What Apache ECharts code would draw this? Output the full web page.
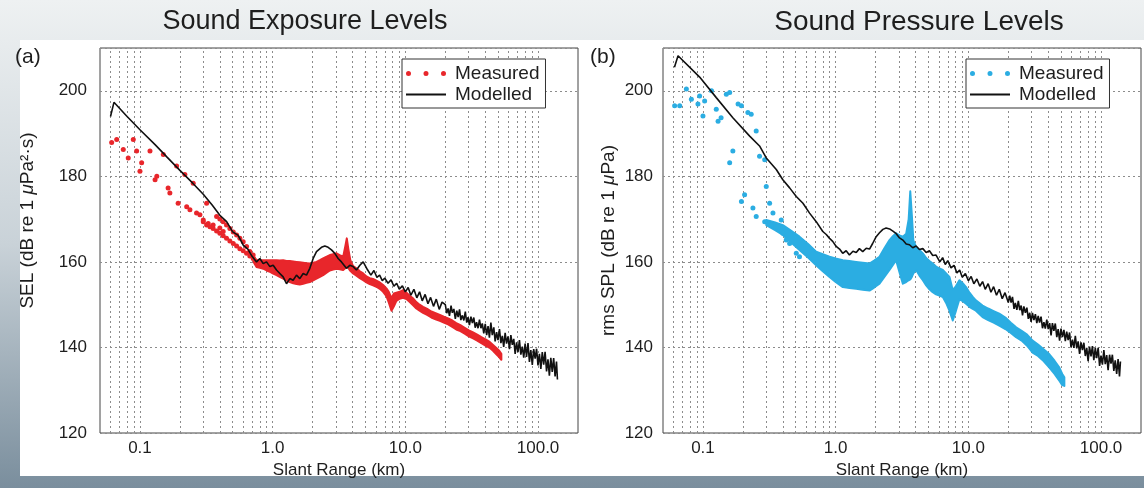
<!DOCTYPE html>
<html><head><meta charset="utf-8">
<script src="https://cdn.jsdelivr.net/npm/echarts@6/dist/echarts.min.js"></script>
<style>html,body{margin:0;padding:0;background:#fff;}#c{width:1144px;height:488px;}</style>
</head><body><div id="c"></div>
<script>
// ---------- data ----------
const xTickLabels = ['0.1', '1.0', '10.0', '100.0'];
const yTicks = [120, 140, 160, 180, 200];
const minorGridKm = [0.06,0.07,0.08,0.09,0.1,0.2,0.3,0.4,0.5,0.6,0.7,0.8,0.9,1,2,3,4,5,6,7,8,9,10,20,30,40,50,60,70,80,90,100];

const selModelled = [
 [0.060,194.0],[0.0637,197.3],[0.08,194.0],[0.1,190.9],[0.13,187.4],[0.16,184.5],[0.2,181.4],[0.25,178.4],[0.3,175.8],[0.35,173.3],[0.4,170.9],[0.45,169.4],[0.5,167.0],[0.55,166.2],[0.6,163.9],[0.65,163.0],[0.7,161.3],
 [0.756,160.0],[0.801,160.8],[0.849,159.6],[0.899,160.0],[0.953,158.9],[1.009,159.2],[1.069,158.1],[1.133,157.3],[1.2,156.5],[1.272,154.9],[1.347,156.1],[1.427,155.7],[1.512,156.9],[1.602,156.1],[1.698,157.3],[1.799,156.9],[1.906,158.5],[2.02,160.8],[2.14,162.4],[2.333,163.4],[2.473,163.7],[2.62,163.4],[2.776,162.8],[2.94,162.0],[3.115,160.8],[3.3,160.0],[3.6,158.5],[3.81,159.2],[4.04,158.9],[4.28,158.1],[4.54,159.2],[4.81,160.0],
 [5.2,158.1],[5.5,156.9],[5.8,158.0],[6.1,156.4],[6.4,156.9],[6.7,155.6],[7.0,156.2],[7.4,155.0],[7.8,155.8],[8.2,154.3],[8.6,155.0],[9.0,153.6],[9.5,154.4],[10.0,153.0],[10.5,154.0],[11.0,152.2],[11.6,153.6],[12.2,151.6],[12.8,153.0],[13.4,150.9],[14.1,152.4],[14.8,150.2],[15.5,151.7],[16.3,149.6],[17.1,151.3],[18.0,148.9],[18.9,150.6],
 [20.0,150.0],[20.5,148.0],[21.0,149.1],[21.5,147.4],[22.1,149.8],[22.6,148.1],[23.2,149.0],[23.8,146.7],[24.4,148.6],[25.0,147.1],[25.6,148.9],[26.2,146.4],[26.9,147.5],[27.6,146.3],[28.3,148.4],[29.0,145.8],[29.7,147.1],[30.4,145.2],[31.2,147.2],[32.0,145.7],[32.8,147.0],[33.6,144.6],[34.4,145.9],[35.3,144.5],[36.2,146.5],[37.1,144.5],[38.0,145.6],[39.0,143.3],[40.0,145.5],[41.0,142.9],[42.0,145.0],[43.0,142.3],[44.1,145.8],[45.2,142.9],[46.4,144.7],[47.5,141.4],[48.7,143.6],[49.9,141.7],[51.2,144.3],[52.5,141.0],[53.8,142.7],[55.1,140.1],[56.5,143.4],[57.9,140.9],[59.4,142.6],[60.9,139.6],[62.4,142.9],[64.0,140.6],[65.6,142.0],[67.2,138.5],[68.9,141.2],[70.6,138.9],[72.4,141.7],[74.2,138.3],[76.1,140.2],[78.0,137.6],[79.9,140.9],[81.9,137.8],[84.0,141.0],[86.1,136.6],[88.2,139.4],[90.5,135.9],[92.7,139.6],[95.1,137.4],[97.5,139.7],[99.9,135.8],[102.4,138.5],[105.0,135.0],[107.6,138.9],[110.3,136.0],[113.0,139.0],[115.9,134.4],[118.8,137.2],[121.7,133.4],[124.8,137.6],[127.9,134.3],[131.1,137.5],[134.4,133.2],[137.7,136.7],[140.0,132.5]
];

const selMeasuredDots = [
 [0.0612,187.9],[0.0668,188.6],[0.0749,186.3],[0.0816,184.3],[0.0891,188.6],[0.0944,185.9],[0.1,181.2],[0.103,183.2],[0.119,185.9],[0.130,179.2],[0.134,180.0],[0.150,185.1],[0.163,177.3],[0.168,176.1],[0.189,182.4],[0.194,173.7],[0.218,180.4],[0.225,172.9],[0.238,172.2],[0.252,178.4],[0.267,171.4],[0.283,171.0],[0.300,169.8],[0.318,173.7],[0.327,169.0],[0.356,168.6],[0.378,170.6],[0.400,167.9],[0.424,167.1],
 [0.30,169.4],[0.318,168.6],[0.337,168.2],[0.356,167.8],[0.378,167.2],[0.400,166.7],[0.424,166.1],[0.449,165.5],[0.476,164.9],[0.505,164.3],[0.535,163.7],[0.566,163.1],[0.60,162.6],[0.636,162.0],[0.673,161.4],[0.713,160.8],
 [0.40,170.0],[0.424,169.4],[0.449,168.6],[0.476,167.8],[0.505,167.0],[0.535,166.3],[0.566,165.5],[0.60,164.7],[0.636,163.6],[0.673,162.4],[0.713,161.6]
];

// [range km, lower dB, upper dB] of the dense measured band
const selMeasuredBand = [
 [0.72,159.9,161.3],[0.756,158.8,160.4],[0.80,158.6,160.4],[0.849,158.4,160.4],[0.90,158.0,160.4],[0.953,157.7,160.4],[1.0,157.3,160.4],[1.069,156.9,160.4],[1.13,156.5,160.3],[1.2,156.1,160.4],[1.27,155.7,160.2],[1.347,155.3,160.2],[1.43,155.0,160.1],[1.512,154.8,160.0],[1.6,154.7,159.9],[1.698,154.9,159.8],[1.8,155.1,159.7],[1.906,155.3,159.6],[2.02,155.7,159.8],[2.14,156.1,160.0],[2.27,156.5,160.4],[2.40,156.9,160.8],[2.55,157.5,161.2],[2.70,158.0,161.6],[2.86,158.2,161.8],[3.03,158.4,162.0],[3.2,158.3,161.6],[3.40,158.1,161.2],[3.52,158.5,163.5],[3.62,159.0,165.5],[3.72,158.6,163.0],[3.85,157.9,160.4],[4.04,157.3,159.0],[4.28,156.8,158.5],[4.54,156.2,157.8],[4.81,155.7,157.3],[5.09,155.2,156.6],[5.39,154.8,156.2],[5.71,154.5,156.0],[6.05,154.2,155.6],[6.42,153.7,155.2],[6.8,153.0,154.6],[7.20,152.0,153.8],[7.5,150.5,153.0],[7.86,148.6,151.5],[8.2,149.6,152.6],[8.56,150.9,152.8],[9.07,151.4,153.0],[9.61,151.6,153.4],[10.2,151.3,152.8],[10.8,150.6,152.1],[11.4,149.9,151.5],[12.1,149.1,150.6],[12.8,148.6,150.0],[13.6,148.1,149.5],[14.6,147.6,149.0],[15.7,147.0,148.4],[16.9,146.6,148.0],[18.2,146.2,147.6],[19.5,145.8,147.2],[21.0,145.4,146.8],[22.6,144.8,146.3],[24.2,144.2,145.7],[26.0,143.8,145.2],[28.0,143.2,144.6],[30.1,142.6,144.0],[32.4,142.1,143.5],[34.8,141.6,143.0],[37.4,141.0,142.4],[40.2,140.4,141.9],[43.2,139.9,141.3],[45.8,139.2,140.6],[48.5,138.4,139.9],[50.7,137.8,139.3],[52.9,137.1,138.5]
];

const splModelled = [
 [0.061,205.5],[0.0649,208.2],[0.0944,203.2],[0.126,198.4],[0.168,193.7],[0.225,189.4],[0.267,187.1],[0.300,184.3],[0.357,181.6],[0.400,179.2],[0.450,177.3],[0.505,175.3],[0.567,173.7],[0.636,171.4],[0.714,169.4],
 [0.80,167.1],[0.85,166.4],[0.90,165.5],[0.95,164.8],[1.01,163.6],[1.07,163.0],[1.13,162.0],[1.2,162.6],[1.27,161.6],[1.35,162.5],[1.43,162.2],[1.51,163.1],[1.6,162.4],[1.7,163.2],[1.8,163.0],[1.9,164.3],[2.02,165.9],[2.14,166.8],[2.27,167.6],[2.40,167.9],[2.55,167.7],[2.7,167.2],[2.86,166.6],[3.03,165.6],[3.21,165.1],[3.4,164.2],[3.6,164.0],[3.81,163.3],[4.04,163.7],[4.28,162.9],[4.54,163.1],[4.81,162.2],[5.09,162.6],[5.39,161.5],[5.71,161.6],
 [6.1,160.0],[6.4,161.0],[6.7,159.4],[7.0,160.3],[7.4,158.6],[7.8,159.2],[8.2,157.4],[8.6,158.1],[9.0,156.4],[9.5,157.3],[10.0,155.6],[10.5,156.6],[11.0,154.9],[11.6,156.0],[12.2,154.3],[12.8,155.4],[13.4,153.6],[14.1,154.9],[14.8,152.9],[15.5,154.2],[16.3,152.2],[17.1,153.6],[18.0,151.4],[18.9,152.8],
 [20.0,150.5],[20.5,152.1],[21.0,150.5],[21.5,151.8],[22.1,149.0],[22.6,150.4],[23.2,148.8],[23.8,150.9],[24.4,148.7],[25.0,149.8],[25.6,147.5],[26.2,149.6],[26.9,148.1],[27.6,149.3],[28.3,146.7],[29.0,148.1],[29.7,146.0],[30.4,148.1],[31.2,146.4],[32.0,147.8],[32.8,145.7],[33.6,147.4],[34.4,145.8],[35.3,147.2],[36.2,144.5],[37.1,145.9],[38.0,144.4],[39.0,146.5],[40.0,144.3],[41.0,145.7],[42.0,142.8],[43.0,145.7],[44.1,143.9],[45.2,145.6],[46.4,142.4],[47.5,144.3],[48.7,141.6],[49.9,144.4],[51.2,142.4],[52.5,144.1],[53.8,141.5],[55.1,143.7],[56.5,141.7],[57.9,143.5],[59.4,140.0],[60.9,141.8],[62.4,139.9],[64.0,142.7],[65.6,139.8],[67.2,141.4],[68.9,138.5],[70.6,141.2],[72.4,139.4],[74.2,141.1],[76.1,138.0],[78.0,139.9],[79.9,136.8],[81.9,140.2],[84.0,137.9],[86.1,140.3],[88.2,137.0],[90.5,139.9],[92.7,137.5],[95.1,139.9],[97.5,135.7],[99.9,138.1],[102.4,136.0],[105.0,139.4],[107.6,136.1],[110.3,138.2],[113.0,134.7],[115.9,138.3],[118.8,136.2],[121.7,138.3],[124.8,134.5],[127.9,137.0],[131.1,133.8],[134.4,137.3],[137.7,133.2],[140.0,136.7]
];

const splMeasuredDots = [
 [0.0612,196.5],[0.0668,196.5],[0.075,200.4],[0.0818,198.0],[0.0917,196.9],[0.0944,198.8],[0.1,194.1],[0.103,197.6],[0.116,200.0],[0.126,195.7],[0.130,192.9],[0.137,193.7],[0.150,199.2],[0.159,199.6],[0.184,196.9],[0.195,196.5],[0.218,194.9],[0.231,194.5],[0.252,190.6],[0.168,185.9],[0.159,183.2],[0.267,184.7],[0.292,183.9],[0.300,177.6],[0.206,175.7],[0.195,174.1],[0.238,172.6],[0.252,170.6],[0.292,169.4],[0.318,173.7],[0.337,171.4],[0.357,168.2],[0.389,169.8],[0.400,166.7],[0.424,165.1],[0.450,164.3],[0.505,162.0],[0.534,161.2]
];

const splMeasuredBand = [
 [0.30,168.6,169.8],[0.35,167.4,169.2],[0.40,166.3,168.6],[0.46,164.6,167.3],[0.534,162.8,165.9],[0.62,161.0,164.2],[0.713,159.2,162.4],[0.80,157.8,161.8],[0.899,156.5,161.2],[1.0,155.3,160.8],[1.133,154.1,160.4],[1.27,153.9,160.2],[1.427,153.7,160.0],[1.6,153.5,159.8],[1.799,153.3,159.6],[1.95,154.0,160.3],[2.14,154.9,161.2],[2.33,156.5,163.2],[2.545,158.1,165.1],[2.7,159.3,166.0],[2.856,160.4,166.7],[3.03,157.5,166.2],[3.21,154.9,165.9],[3.4,155.3,166.6],[3.55,155.7,170.0],[3.65,155.9,176.5],[3.75,156.5,171.0],[3.85,157.3,165.0],[4.04,158.1,163.5],[4.28,156.8,162.8],[4.54,155.7,162.0],[4.81,154.5,160.9],[5.09,153.6,160.2],[5.39,152.9,159.6],[5.71,152.4,158.9],[6.05,152.1,158.5],[6.42,151.8,158.1],[6.8,150.4,157.3],[7.2,148.6,156.5],[7.63,146.3,153.4],[8.05,148.5,154.3],[8.56,151.3,155.7],[9.07,150.8,155.0],[9.61,150.2,154.1],[10.2,149.5,152.8],[10.8,149.0,151.8],[11.4,148.6,151.0],[12.8,147.1,149.8],[14.1,146.4,149.1],[15.5,145.8,148.5],[17.1,145.1,147.9],[19.0,144.3,147.0],[20.9,143.4,145.8],[22.9,142.4,144.7],[25.2,141.6,143.9],[27.7,140.4,143.0],[30.5,138.8,141.6],[33.5,138.0,140.7],[36.9,136.8,139.6],[40.8,135.3,138.4],[44.6,133.8,136.9],[48.5,132.2,135.3],[51.0,131.2,133.8],[52.9,131.0,133.0]
];

// ---------- styling ----------
const FONT = "'Liberation Sans', Arial, Helvetica, sans-serif";
const RED = '#e8262b', CYAN = '#2badE2', BLACK = '#111111';
const TXT = '#1e1e1e';
const GRID_COLOR = '#8c8c8c';
const dotsIcon = 'path://M0,2.5a2.5,2.5 0 1,0 5,0a2.5,2.5 0 1,0 -5,0ZM17.5,2.5a2.5,2.5 0 1,0 5,0a2.5,2.5 0 1,0 -5,0ZM35,2.5a2.5,2.5 0 1,0 5,0a2.5,2.5 0 1,0 -5,0Z';
const lineIcon = 'path://M0,0H40V2H0Z';

function xLabel(v) {
  const l = Math.log10(v), r = Math.round(l);
  if (Math.abs(l - r) > 1e-6) return '';
  const i = r + 1;
  return (i >= 0 && i < xTickLabels.length) ? xTickLabels[i] : '';
}

function xAxisOf(gi) {
  return {
    type: 'log', logBase: 10, gridIndex: gi, min: 0.05, max: 200,
    axisLine: { show: false }, axisTick: { show: false }, splitLine: { show: false },
    axisLabel: { formatter: xLabel, fontSize: 17, color: TXT, fontFamily: FONT, margin: 7, showMinLabel: false, showMaxLabel: false },
    name: 'Slant Range (km)', nameLocation: 'middle', nameGap: 26,
    nameTextStyle: { fontSize: 17, color: TXT, fontFamily: FONT }
  };
}
function yAxisOf(gi, name, gap, labelMargin, shift) {
  return {
    type: 'value', gridIndex: gi, min: yTicks[0], max: 210, interval: yTicks[1] - yTicks[0],
    axisLine: { show: false }, axisTick: { show: false },
    axisLabel: { fontSize: 17, color: TXT, fontFamily: FONT, margin: labelMargin, showMaxLabel: false,
      formatter: v => (yTicks.indexOf(v) >= 0 ? String(v) : '') },
    splitLine: { show: true, lineStyle: { color: GRID_COLOR, type: [2, 3], width: 1 } },
    name: name, nameLocation: 'middle', nameRotate: 90, nameGap: gap,
    nameTextStyle: { fontSize: 19, color: TXT, fontFamily: FONT, padding: [0, 0, 0, shift],
      rich: { i: { fontStyle: 'italic', fontSize: 19, color: TXT, fontFamily: FONT } } }
  };
}
function gridLinesSeries(gi) {
  return {
    type: 'line', name: 'grid' + gi, xAxisIndex: gi, yAxisIndex: gi, data: [], silent: true,
    markLine: { z: 1, silent: true, symbol: 'none', label: { show: false }, animation: false,
      lineStyle: { color: GRID_COLOR, type: [2, 3], width: 1 },
      data: minorGridKm.map(v => ({ xAxis: v })) }
  };
}
function bandSeries(band, color, gi) {
  return {
    type: 'custom', name: 'band' + gi, xAxisIndex: gi, yAxisIndex: gi, z: 2, silent: true,
    data: band, encode: { x: 0, y: [1, 2] },
    renderItem: function (params, api) {
      if (params.dataIndex !== 0) return null;
      const up = band.map(d => api.coord([d[0], d[2]]));
      const lo = band.map(d => api.coord([d[0], d[1]])).reverse();
      return { type: 'polygon', shape: { points: up.concat(lo) },
        style: { fill: color, stroke: color, lineWidth: 2, lineJoin: 'round' } };
    }
  };
}
function dotsSeries(name, dots, color, gi) {
  return { type: 'scatter', name: name, xAxisIndex: gi, yAxisIndex: gi, data: dots, z: 3,
    symbol: 'circle', symbolSize: 5, itemStyle: { color: color, opacity: 1 }, silent: true };
}
function modelSeries(name, pts, gi) {
  return { type: 'line', name: name, xAxisIndex: gi, yAxisIndex: gi, data: pts, z: 4,
    showSymbol: false, symbol: 'none', lineStyle: { color: BLACK, width: 1.6 }, itemStyle: { color: BLACK }, silent: true };
}
function legendOf(left, names) {
  return {
    left: left, top: 59, orient: 'vertical', selectedMode: false,
    itemWidth: 40, itemHeight: 5, itemGap: 2, padding: [5, 6, 4, 4],
    borderColor: '#333', borderWidth: 1, backgroundColor: '#fff',
    textStyle: { fontSize: 19, color: TXT, fontFamily: FONT, padding: [0, 0, 0, 4] },
    formatter: n => n.trim(),
    data: [ { name: names[0], icon: dotsIcon }, { name: names[1], icon: lineIcon } ]
  };
}

const chart = echarts.init(document.getElementById('c'), null, { renderer: 'canvas' });
chart.setOption({
  animation: false,
  graphic: [
    { type: 'rect', z: -10, silent: true, shape: { x: 0, y: 0, width: 1144, height: 488 },
      style: { fill: new echarts.graphic.LinearGradient(0, 0, 0, 1, [
        { offset: 0, color: '#eef1f2' }, { offset: 0.5, color: '#c9d2d8' }, { offset: 1, color: '#7a8e9d' }]) } },
    { type: 'rect', z: -9, silent: true, shape: { x: 20, y: 40, width: 1124, height: 436 }, style: { fill: '#ffffff' } },
    { type: 'text', z: 10, silent: true, x: 305, y: 22, style: { text: 'Sound Exposure Levels', fill: TXT, font: '27px ' + FONT, textAlign: 'center', textVerticalAlign: 'middle' } },
    { type: 'text', z: 10, silent: true, x: 919, y: 22, style: { text: 'Sound Pressure Levels', fill: TXT, font: '28px ' + FONT, textAlign: 'center', textVerticalAlign: 'middle' } },
    { type: 'text', z: 10, silent: true, x: 15, y: 57, style: { text: '(a)', fill: TXT, font: '21px ' + FONT, textVerticalAlign: 'middle' } },
    { type: 'text', z: 10, silent: true, x: 590, y: 57, style: { text: '(b)', fill: TXT, font: '21px ' + FONT, textVerticalAlign: 'middle' } }
  ],
  grid: [
    { left: 100, top: 48, width: 478, height: 385, show: true, borderColor: '#444', borderWidth: 1, backgroundColor: 'transparent' },
    { left: 663, top: 48, width: 478, height: 385, show: true, borderColor: '#444', borderWidth: 1, backgroundColor: 'transparent' }
  ],
  xAxis: [xAxisOf(0), xAxisOf(1)],
  yAxis: [yAxisOf(0, 'SEL (dB re 1 {i|μ}Pa²·s)', 63, 13, 40), yAxisOf(1, 'rms SPL (dB re 1 {i|μ}Pa)', 45, 10, 0)],
  legend: [legendOf(402, ['Measured', 'Modelled']), legendOf(966, ['Measured ', 'Modelled '])],
  series: [
    gridLinesSeries(0), gridLinesSeries(1),
    bandSeries(selMeasuredBand, RED, 0),
    dotsSeries('Measured', selMeasuredDots, RED, 0),
    modelSeries('Modelled', selModelled, 0),
    bandSeries(splMeasuredBand, CYAN, 1),
    dotsSeries('Measured ', splMeasuredDots, CYAN, 1),
    modelSeries('Modelled ', splModelled, 1)
  ]
});
</script></body></html>
